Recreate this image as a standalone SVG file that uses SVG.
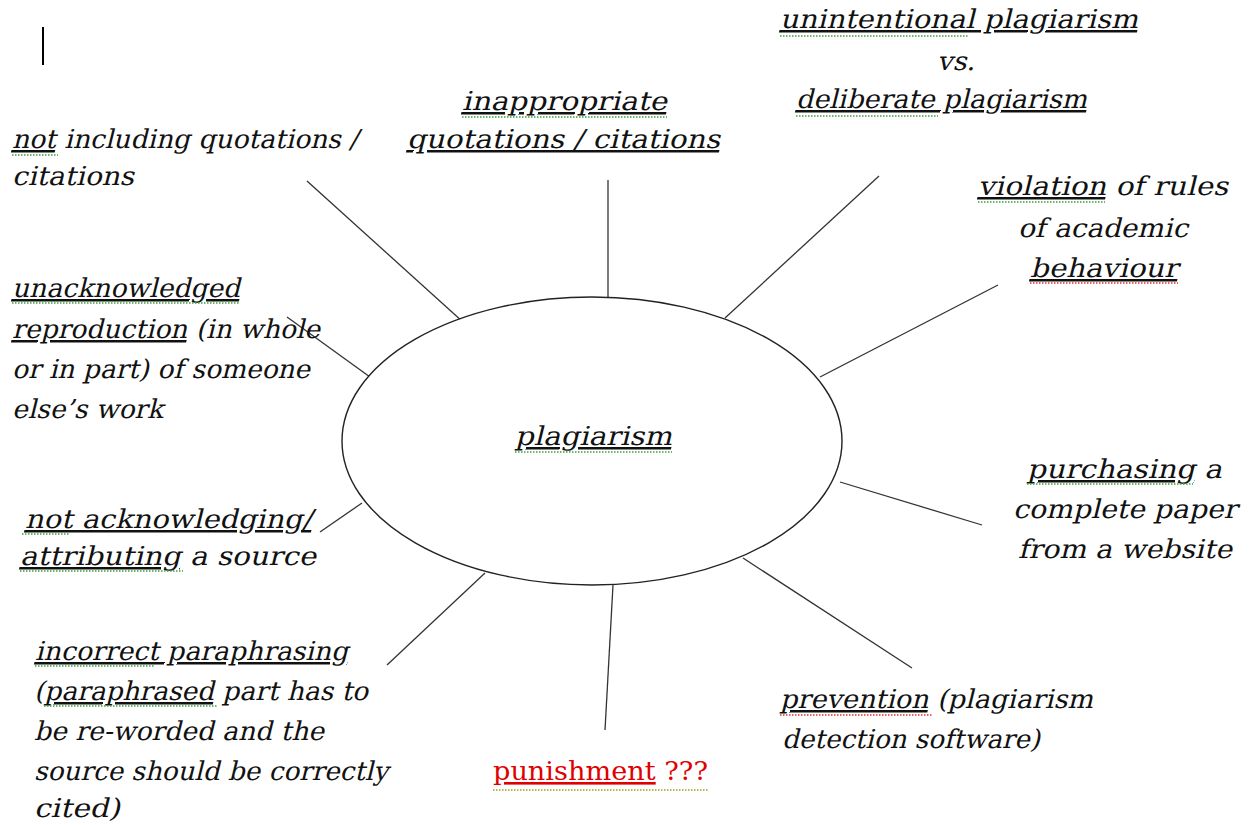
<svg xmlns="http://www.w3.org/2000/svg" width="1251" height="825" viewBox="0 0 1251 825">
<style>
.t{font-family:"DejaVu Serif","Liberation Serif",serif;font-size:26px;fill:#111}
.u{text-decoration:underline}
.red{font-family:"DejaVu Serif","Liberation Serif",serif;font-size:26px;fill:#e00000}
.c{stroke:#333;stroke-width:1.3;fill:none}
.sg{stroke:#3aa33a;stroke-width:1.5;stroke-dasharray:1.5 1.5;fill:none}
.sr{stroke:#e03030;stroke-width:1.5;stroke-dasharray:1.5 1.5;fill:none}
.so{stroke:#a0a020;stroke-width:1.5;stroke-dasharray:1.5 1.5;fill:none}
</style>
<rect width="1251" height="825" fill="#fff"/>
<line x1="43" y1="27" x2="43" y2="65" stroke="#000" stroke-width="2"/>
<g id="connectors">
<line class="c" x1="307" y1="181" x2="463" y2="322"/>
<line class="c" x1="608" y1="180" x2="608" y2="302"/>
<line class="c" x1="879" y1="176" x2="725" y2="318"/>
<line class="c" x1="998" y1="285" x2="820" y2="377"/>
<line class="c" x1="287" y1="317" x2="370" y2="377"/>
<line class="c" x1="320" y1="532" x2="362" y2="503"/>
<line class="c" x1="387" y1="665" x2="485" y2="573"/>
<line class="c" x1="605" y1="730" x2="613" y2="585"/>
<line class="c" x1="743" y1="558" x2="912" y2="668"/>
<line class="c" x1="840" y1="482" x2="982" y2="525"/>
</g>
<g id="center">
<ellipse cx="592" cy="441" rx="250" ry="144" fill="#fff" stroke="#222" stroke-width="1.4"/>
<text class="t" transform="translate(515,445) skewX(-14)" textLength="157" lengthAdjust="spacingAndGlyphs"><tspan class="u">plagiarism</tspan></text>
</g>
<g id="n-not-including">
<text class="t" transform="translate(12,148) skewX(-14)" textLength="346" lengthAdjust="spacingAndGlyphs"><tspan class="u">not</tspan> including quotations /</text>
<text class="t" transform="translate(12,185) skewX(-14)" textLength="122" lengthAdjust="spacingAndGlyphs">citations</text>
</g>
<g id="n-inappropriate">
<text class="t" transform="translate(462,110) skewX(-14)" textLength="205" lengthAdjust="spacingAndGlyphs"><tspan class="u">inappropriate</tspan></text>
<text class="t" transform="translate(407,148) skewX(-14)" textLength="313" lengthAdjust="spacingAndGlyphs"><tspan class="u">quotations / citations</tspan></text>
</g>
<g id="n-unintentional">
<text class="t" transform="translate(780,28) skewX(-14)" textLength="358" lengthAdjust="spacingAndGlyphs"><tspan class="u">unintentional plagiarism</tspan></text>
<text class="t" transform="translate(937,70) skewX(-14)" textLength="38" lengthAdjust="spacingAndGlyphs">vs.</text>
<text class="t" transform="translate(796,108) skewX(-14)" textLength="291" lengthAdjust="spacingAndGlyphs"><tspan class="u">deliberate plagiarism</tspan></text>
</g>
<g id="n-violation">
<text class="t" transform="translate(978,195) skewX(-14)" textLength="250" lengthAdjust="spacingAndGlyphs"><tspan class="u">violation</tspan> of rules</text>
<text class="t" transform="translate(1018,237) skewX(-14)" textLength="170" lengthAdjust="spacingAndGlyphs">of academic</text>
<text class="t" transform="translate(1030,277) skewX(-14)" textLength="148" lengthAdjust="spacingAndGlyphs"><tspan class="u">behaviour</tspan></text>
</g>
<g id="n-unacknowledged">
<text class="t" transform="translate(12,297) skewX(-14)" textLength="228" lengthAdjust="spacingAndGlyphs"><tspan class="u">unacknowledged</tspan></text>
<text class="t" transform="translate(12,338) skewX(-14)" textLength="308" lengthAdjust="spacingAndGlyphs"><tspan class="u">reproduction</tspan> (in whole</text>
<text class="t" transform="translate(12,378) skewX(-14)" textLength="298" lengthAdjust="spacingAndGlyphs">or in part) of someone</text>
<text class="t" transform="translate(12,418) skewX(-14)" textLength="151" lengthAdjust="spacingAndGlyphs">else’s work</text>
</g>
<g id="n-not-acknowledging">
<text class="t" transform="translate(25,528) skewX(-14)" textLength="287" lengthAdjust="spacingAndGlyphs"><tspan class="u">not acknowledging/</tspan></text>
<text class="t" transform="translate(20,565) skewX(-14)" textLength="296" lengthAdjust="spacingAndGlyphs"><tspan class="u">attributing</tspan> a source</text>
</g>
<g id="n-purchasing">
<text class="t" transform="translate(1027,478) skewX(-14)" textLength="195" lengthAdjust="spacingAndGlyphs"><tspan class="u">purchasing</tspan> a</text>
<text class="t" transform="translate(1013,518) skewX(-14)" textLength="224" lengthAdjust="spacingAndGlyphs">complete paper</text>
<text class="t" transform="translate(1018,558) skewX(-14)" textLength="214" lengthAdjust="spacingAndGlyphs">from a website</text>
</g>
<g id="n-incorrect">
<text class="t" transform="translate(35,660) skewX(-14)" textLength="313" lengthAdjust="spacingAndGlyphs"><tspan class="u">incorrect paraphrasing</tspan></text>
<text class="t" transform="translate(34,700) skewX(-14)" textLength="334" lengthAdjust="spacingAndGlyphs">(<tspan class="u">paraphrased</tspan> part has to</text>
<text class="t" transform="translate(34,740) skewX(-14)" textLength="290" lengthAdjust="spacingAndGlyphs">be re-worded and the</text>
<text class="t" transform="translate(34,780) skewX(-14)" textLength="354" lengthAdjust="spacingAndGlyphs">source should be correctly</text>
<text class="t" transform="translate(34,817) skewX(-14)" textLength="86" lengthAdjust="spacingAndGlyphs">cited)</text>
</g>
<g id="n-prevention">
<text class="t" transform="translate(780,708) skewX(-14)" textLength="313" lengthAdjust="spacingAndGlyphs"><tspan class="u">prevention</tspan> (plagiarism</text>
<text class="t" transform="translate(782,748) skewX(-14)" textLength="258" lengthAdjust="spacingAndGlyphs">detection software)</text>
</g>
<g id="n-punishment">
<text class="red" x="493" y="780" textLength="215" lengthAdjust="spacingAndGlyphs"><tspan class="u">punishment</tspan> ???</text>
</g>
<g id="spellcheck">
<line class="sg" x1="12" y1="155" x2="58" y2="155"/>
<line class="sg" x1="462" y1="117" x2="667" y2="117"/>
<line class="sg" x1="780" y1="36" x2="968" y2="36"/>
<line class="sg" x1="796" y1="116" x2="938" y2="116"/>
<line class="sg" x1="978" y1="202" x2="1105" y2="202"/>
<line class="sr" x1="1030" y1="283" x2="1178" y2="283"/>
<line class="sg" x1="12" y1="303" x2="240" y2="303"/>
<line class="sg" x1="515" y1="452" x2="672" y2="452"/>
<line class="sg" x1="22" y1="534" x2="70" y2="534"/>
<line class="sg" x1="20" y1="571" x2="183" y2="571"/>
<line class="sg" x1="1027" y1="484" x2="1193" y2="484"/>
<line class="sg" x1="35" y1="666" x2="155" y2="666"/>
<line class="sg" x1="44" y1="706" x2="218" y2="706"/>
<line class="sr" x1="780" y1="715" x2="933" y2="715"/>
<line class="so" x1="493" y1="790" x2="708" y2="790"/>
</g>
</svg>
